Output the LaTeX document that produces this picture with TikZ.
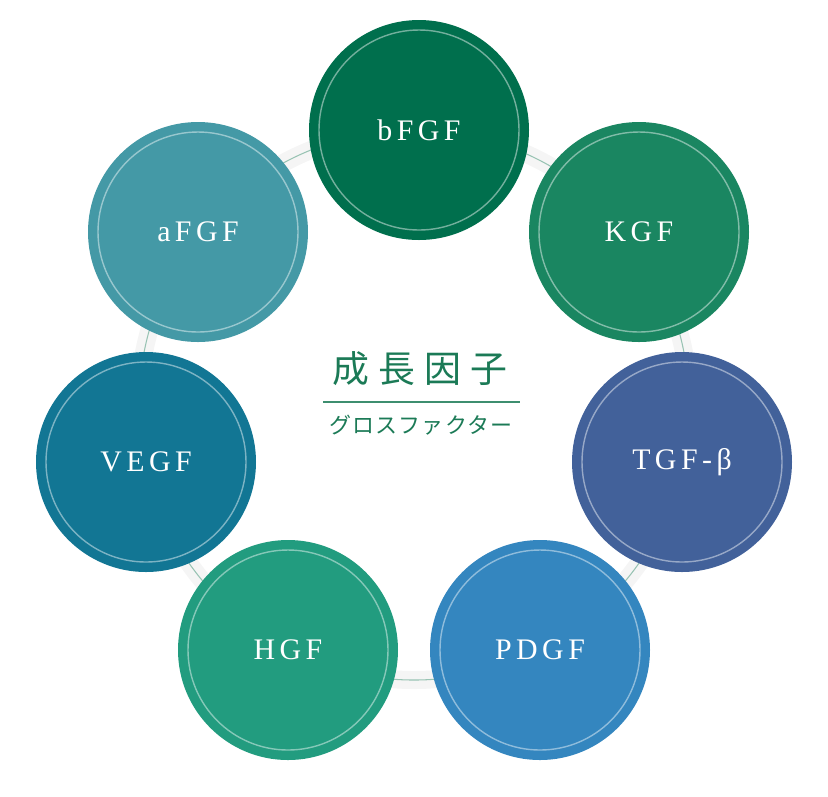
\documentclass[tikz,border=0pt]{standalone}
\usepackage{fontspec}
\newfontfamily\cjk{Noto Sans CJK JP}
\newfontfamily\lbl[LetterSpace=15]{Liberation Serif}
\usetikzlibrary{positioning}
\definecolor{cB}{HTML}{006F4D}
\definecolor{cK}{HTML}{1A8661}
\definecolor{cT}{HTML}{42619A}
\definecolor{cP}{HTML}{3486BF}
\definecolor{cH}{HTML}{229C7F}
\definecolor{cV}{HTML}{127694}
\definecolor{cA}{HTML}{4499A6}
\definecolor{ttl}{HTML}{1B7A56}

\tikzset{
  factor/.style={circle,minimum size=220*0.02cm,inner sep=0pt,fill=#1,text=white,
    font=\lbl\fontsize{17}{17}\selectfont,
    path picture={\draw[white,opacity=0.45,line width=0.8pt]
      (path picture bounding box.center) circle (100*0.02cm);}},
}

\begin{document}
\begin{tikzpicture}[x=0.02cm,y=-0.02cm]
  \useasboundingbox (0,0) rectangle (828,796);
  % ring behind the circles
  \coordinate (mid) at (414,405);
  \draw[white!92!gray,line width=18*0.02cm] (mid) circle (275);
  \draw[ttl!45,line width=0.6pt] (mid) circle (275);

  \node[factor=cB] (bfgf) at (419,130) {bFGF};
  \node[factor=cK] (kgf)  at (639,232) {KGF};
  \node[factor=cT] (tgf)  at (682,462) {TGF-β};
  \node[factor=cP] (pdgf) at (540,650) {PDGF};
  \node[factor=cH] (hgf)  at (288,650) {HGF};
  \node[factor=cV] (vegf) at (146,462) {VEGF};
  \node[factor=cA] (afgf) at (198,232) {aFGF};

  \node[text=ttl,font=\cjk\fontsize{21}{21}\selectfont\addfontfeature{LetterSpace=25}] (title) at (420,369) {成長因子};
  \node[text=ttl,font=\cjk\fontsize{12.5}{13}\selectfont\addfontfeature{LetterSpace=5}] (sub) at (421,425) {グロスファクター};
  \draw[ttl!85,line width=1.2pt] (323,402) -- (520,402);
\end{tikzpicture}
\end{document}
